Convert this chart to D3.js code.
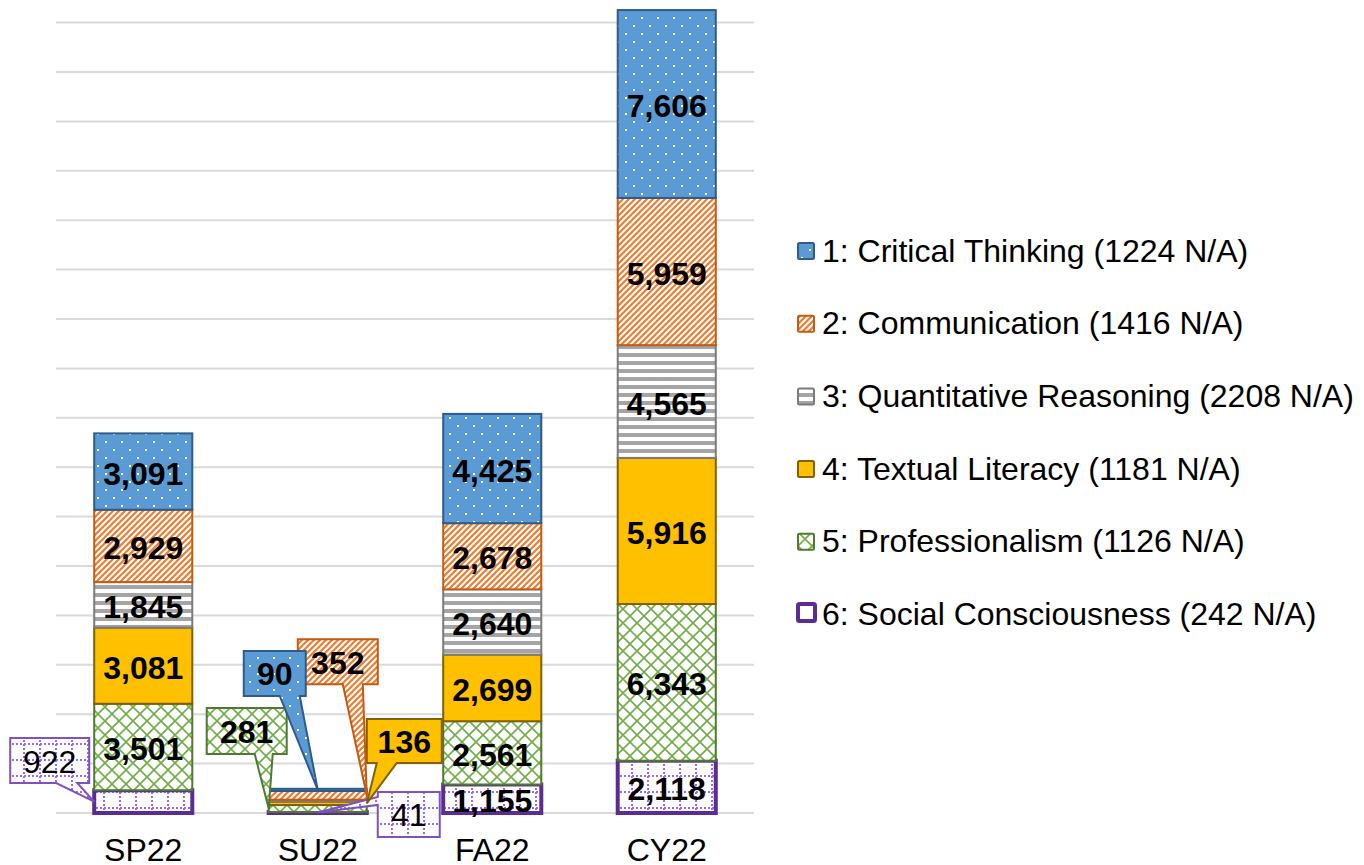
<!DOCTYPE html>
<html><head><meta charset="utf-8">
<script src="https://cdn.jsdelivr.net/npm/d3@7"></script>
<style>html,body{margin:0;padding:0;background:#fff}svg{display:block}text{font-family:"Liberation Sans",Arial,sans-serif}</style>
</head><body><svg id="c" width="1364" height="865"></svg>
<script>
// ---- data ----
const categories = ["SP22", "SU22", "FA22", "CY22"];
const seriesKeys = ["critical", "communication", "quantitative", "textual", "professional", "social"];
const seriesNames = [
  "1: Critical Thinking (1224 N/A)",
  "2: Communication (1416 N/A)",
  "3: Quantitative Reasoning (2208 N/A)",
  "4: Textual Literacy (1181 N/A)",
  "5: Professionalism (1126 N/A)",
  "6: Social Consciousness (242 N/A)"
];
const criticalThinking = [3091, 90, 4425, 7606];
const communication = [2929, 352, 2678, 5959];
const quantitativeReasoning = [1845, 80, 2640, 4565];
const textualLiteracy = [3081, 136, 2699, 5916];
const professionalism = [3501, 281, 2561, 6343];
const socialConsciousness = [922, 41, 1155, 2118];
const yTickValues = [0,2000,4000,6000,8000,10000,12000,14000,16000,18000,20000,22000,24000,26000,28000,30000,32000];

// ---- styles / layout ----
const style = {
  critical:      {fill: "url(#pDots)",    stroke: "#2E5B88", sw: 2},
  communication: {fill: "url(#pHatch)",   stroke: "#C55A11", sw: 2},
  quantitative:  {fill: "url(#pStripe)",  stroke: "#7B7B7B", sw: 2},
  textual:       {fill: "#FFC000",        stroke: "#806000", sw: 2},
  professional:  {fill: "url(#pLattice)", stroke: "#4E7A30", sw: 2},
  social:        {fill: "url(#pGrid)",    stroke: "#5C2D91", sw: 4, calloutStroke: "#7F50C0"}
};
const hiddenLabels = ["SU22|quantitative"];
const callouts = {
  "SP22|social":        {anchor: "left",   box: [-84, -63.6, -5, -18.6],  wedge: "bottom", base: [-38, -17],  bold: false},
  "SU22|critical":      {anchor: "center", box: [-74, -139, -12, -94],    wedge: "bottom", base: [-38, -18],  bold: true},
  "SU22|communication": {anchor: "right",  box: [-69, -156, 11, -111],    wedge: "bottom", base: [-24, -4],   bold: true},
  "SU22|professional":  {anchor: "left",   box: [-62, -100.5, 18, -54.5], wedge: "bottom", base: [-14, 4],    bold: true},
  "SU22|textual":       {anchor: "right",  box: [0, -84.4, 75, -40.4],    wedge: "bottom", base: [10, 30],    bold: true},
  "SU22|social":        {anchor: "center", box: [60, -20.5, 122, 24.5],   wedge: "left",   base: [-15.5, -7.5], bold: false}
};

const valuesByKey = {
  critical: criticalThinking, communication: communication, quantitative: quantitativeReasoning,
  textual: textualLiteracy, professional: professionalism, social: socialConsciousness
};
const table = categories.map((c, i) => {
  const row = {category: c};
  seriesKeys.forEach(k => row[k] = valuesByKey[k][i]);
  return row;
});

const svg = d3.select("#c");
svg.append("rect").attr("width", 1364).attr("height", 865).attr("fill", "#fff");

// patterns
const defs = svg.append("defs");
const pd = defs.append("pattern").attr("id", "pDots").attr("patternUnits", "userSpaceOnUse").attr("width", 16).attr("height", 16);
pd.append("rect").attr("width", 16).attr("height", 16).attr("fill", "#5B9BD5");
pd.append("rect").attr("x", 1).attr("y", 1).attr("width", 2).attr("height", 2).attr("fill", "#fff");
pd.append("rect").attr("x", 9).attr("y", 9).attr("width", 2).attr("height", 2).attr("fill", "#fff");

const ph = defs.append("pattern").attr("id", "pHatch").attr("patternUnits", "userSpaceOnUse").attr("width", 6).attr("height", 6);
ph.append("rect").attr("width", 6).attr("height", 6).attr("fill", "#fff");
ph.append("path").attr("d", "M0,6 L6,0 M-1,1 L1,-1 M5,7 L7,5").attr("stroke", "#ED7D31").attr("stroke-width", 2.2);

const ps = defs.append("pattern").attr("id", "pStripe").attr("patternUnits", "userSpaceOnUse").attr("width", 8).attr("height", 8);
ps.append("rect").attr("width", 8).attr("height", 8).attr("fill", "#fff");
ps.append("rect").attr("y", 1).attr("width", 8).attr("height", 4).attr("fill", "#A5A5A5");

const pl = defs.append("pattern").attr("id", "pLattice").attr("patternUnits", "userSpaceOnUse").attr("width", 14).attr("height", 14);
pl.append("rect").attr("width", 14).attr("height", 14).attr("fill", "#fff");
pl.append("path").attr("d", "M0,0 L14,14 M14,0 L0,14").attr("stroke", "#70AD47").attr("stroke-width", 1.6);

const pg = defs.append("pattern").attr("id", "pGrid").attr("patternUnits", "userSpaceOnUse").attr("width", 16).attr("height", 16);
pg.append("rect").attr("width", 16).attr("height", 16).attr("fill", "#fff");
[0, 4, 8, 12].forEach(o => {
  pg.append("rect").attr("x", o).attr("y", 7).attr("width", 2).attr("height", 2).attr("fill", "#9966FF");
  pg.append("rect").attr("x", 7).attr("y", o).attr("width", 2).attr("height", 2).attr("fill", "#9966FF");
});

// scales
const x = d3.scaleBand().domain(categories).range([56, 754]).paddingInner(0.438).paddingOuter(0.219);
const y = d3.scaleLinear().domain([0, 32000]).range([813, 22.6]);

// gridlines
svg.append("g").selectAll("line").data(yTickValues).join("line")
  .attr("x1", 56).attr("x2", 754)
  .attr("y1", d => y(d)).attr("y2", d => y(d))
  .attr("stroke", "#D9D9D9").attr("stroke-width", 2);

// stack (bottom: social ... top: critical)
const stackOrder = seriesKeys.slice().reverse();
const stacked = d3.stack().keys(stackOrder)(table);

const barG = svg.append("g");
stacked.forEach(layer => {
  const st = style[layer.key];
  barG.append("g").selectAll("rect").data(layer).join("rect")
    .attr("x", d => x(d.data.category))
    .attr("width", x.bandwidth())
    .attr("y", d => y(d[1]))
    .attr("height", d => y(d[0]) - y(d[1]))
    .attr("fill", st.fill)
    .attr("stroke", st.stroke)
    .attr("stroke-width", st.sw);
});

// labels
const fmt = d3.format(",");
const FS = 32;
const labelG = svg.append("g");
stacked.forEach(layer => {
  const key = layer.key;
  const st = style[key];
  layer.forEach(d => {
    const cat = d.data.category;
    const id = cat + "|" + key;
    if (hiddenLabels.includes(id)) return;
    const val = d.data[key];
    const midY = (y(d[0]) + y(d[1])) / 2;
    const co = callouts[id];
    if (!co) {
      labelG.append("text").attr("x", x(cat) + x.bandwidth() / 2).attr("y", midY + 13)
        .attr("text-anchor", "middle").attr("font-size", FS).attr("font-weight", "bold")
        .attr("fill", "#000").text(fmt(val));
    } else {
      const bx0 = x(cat), bx1 = x(cat) + x.bandwidth();
      const tx = co.anchor === "left" ? bx0 : co.anchor === "right" ? bx1 : (bx0 + bx1) / 2;
      const ty = midY;
      const [r0, r1, r2, r3] = co.box;
      const X0 = tx + r0, Y0 = ty + r1, X1 = tx + r2, Y1 = ty + r3;
      let p;
      if (co.wedge === "bottom") {
        const b0 = tx + co.base[0], b1 = tx + co.base[1];
        p = `M${X0},${Y0}H${X1}V${Y1}H${b1}L${tx},${ty}L${b0},${Y1}H${X0}Z`;
      } else {
        const b0 = ty + co.base[0], b1 = ty + co.base[1];
        p = `M${X0},${Y0}H${X1}V${Y1}H${X0}V${b1}L${tx},${ty}L${X0},${b0}Z`;
      }
      labelG.append("path").attr("d", p).attr("fill", st.fill)
        .attr("stroke", st.calloutStroke || st.stroke).attr("stroke-width", 2)
        .attr("stroke-linejoin", "miter");
      labelG.append("text").attr("x", (X0 + X1) / 2).attr("y", (Y0 + Y1) / 2 + 12)
        .attr("text-anchor", "middle").attr("font-size", FS)
        .attr("font-weight", co.bold ? "bold" : "normal")
        .attr("fill", "#000").text(fmt(val));
    }
  });
});

// category axis labels
svg.append("g").selectAll("text").data(categories).join("text")
  .attr("x", d => x(d) + x.bandwidth() / 2).attr("y", 861)
  .attr("text-anchor", "middle").attr("font-size", FS).attr("fill", "#000").text(d => d);

// legend
const legG = svg.append("g");
seriesKeys.forEach((k, i) => {
  const st = style[k];
  const base = 261.5 + 72.7 * i;
  if (k === "social") {
    legG.append("rect").attr("x", 798).attr("y", base - 21).attr("width", 17).attr("height", 17)
      .attr("rx", 1.5).attr("fill", "#fff").attr("stroke", st.stroke).attr("stroke-width", 4);
  } else {
    legG.append("rect").attr("x", 798).attr("y", base - 18.5).attr("width", 16).attr("height", 16)
      .attr("rx", 1.5).attr("fill", st.fill).attr("stroke", st.stroke).attr("stroke-width", 2);
  }
  legG.append("text").attr("x", 822).attr("y", base).attr("font-size", FS).attr("fill", "#000").text(seriesNames[i]);
});
</script></body></html>
